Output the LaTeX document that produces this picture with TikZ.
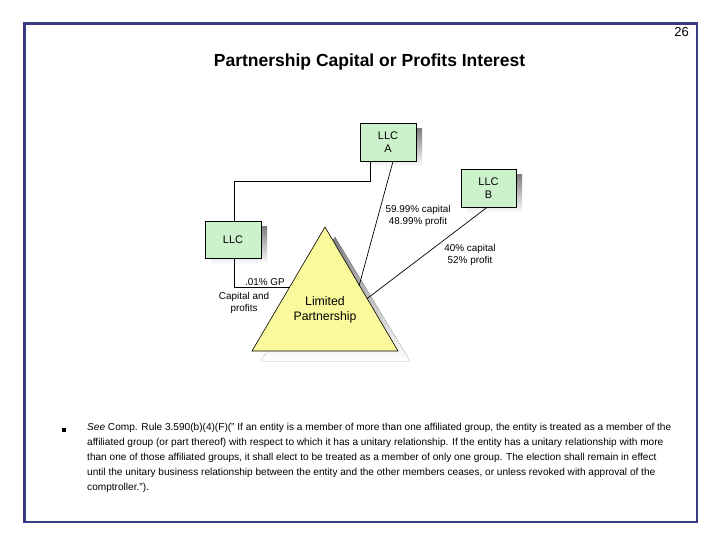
\documentclass[tikz,border=0pt]{standalone}
\usepackage{fontspec}
\setmainfont{Liberation Sans}
\usetikzlibrary{calc}
\definecolor{frame}{HTML}{3A3A80}
\definecolor{boxfill}{HTML}{CCF2CC}
\definecolor{trifill}{HTML}{FAFA9C}
\definecolor{shade}{HTML}{BBBBBB}
\tikzset{
  llcbox/.style={draw=black, line width=0.8pt, fill=boxfill, minimum width=56pt, minimum height=38pt, inner sep=0pt, align=center, font=\fontsize{11}{13}\selectfont},
  lbl/.style={align=center, inner sep=0pt, font=\fontsize{9.9}{12}\selectfont},
  conn/.style={draw=black, line width=0.7pt}
}
\begin{document}
\begin{tikzpicture}[x=1pt,y=-1pt]
\useasboundingbox (0,0) rectangle (720,540);
\fill[white] (0,0) rectangle (720,540);
\draw[frame, line width=2.6pt] (24.5,23.5) rectangle (697,522);
\node[anchor=east, inner sep=0pt, font=\fontsize{13}{15}\selectfont] (pg) at (689,32) {26};
\node[inner sep=0pt, font=\bfseries\fontsize{17.5}{20}\selectfont] (title) at (369.5,62) {Partnership Capital or Profits Interest};

% shadows
\fill[shade] (366,129) rectangle (422,167);
\fill[shade] (467,175) rectangle (522,213);
\fill[shade] (211,227) rectangle (267,264);
\fill[shade] (335,237) -- (261,361) -- (410,361) -- cycle;

% triangle
\coordinate (apex) at (325,227);
\coordinate (bl) at (252,351);
\coordinate (br) at (398,351);
\filldraw[draw=black, line width=0.6pt, fill=trifill] (apex) -- (bl) -- (br) -- cycle;
\node[align=center, inner sep=0pt, font=\fontsize{12.3}{15}\selectfont] (lp) at (325,310) {Limited\\Partnership};

% boxes
\node[llcbox] (A) at (388,142) {LLC\\A};
\node[llcbox, minimum width=55pt] (B) at (488.5,188) {LLC\\B};
\node[llcbox, minimum height=37pt] (L) at (233,239.5) {LLC};

% connectors
\coordinate (ta) at ($(apex)!0.484!(bl)$);
\coordinate (tA) at (359,286);
\coordinate (tB) at ($(apex)!0.577!(br)$);
\draw[conn] (A.south -| 370,0) |- (234,181) -- (L.north -| 234,0);
\draw[conn] (L.south -| 234,0) |- (ta);
\draw[conn] (A.south -| 393,0) -- (tA);
\draw[conn] (B.south -| 487,0) -- (tB);

% labels
\node[lbl] (lA) at (418,215.5) {59.99\% capital\\48.99\% profit};
\node[lbl] (lB) at (470,255) {40\% capital\\52\% profit};
\node[lbl] (gp) at (265,282) {.01\% GP};
\node[lbl] (cp) at (244,302.5) {Capital and\\profits};

% footnote
\node[inner sep=0pt] (bul) at (64,430) {\rule{3.2pt}{3.2pt}};
\node[anchor=north west, align=left, inner sep=0pt, font=\fontsize{10.1}{15.1}\selectfont] (note) at (87,423)
{\textit{See} Comp. Rule 3.590(b)(4)(F)(" If an entity is a member of more than one affiliated group, the entity is treated as a member of the\\
affiliated group (or part thereof) with respect to which it has a unitary relationship. If the entity has a unitary relationship with more\\
than one of those affiliated groups, it shall elect to be treated as a member of only one group. The election shall remain in effect\\
until the unitary business relationship between the entity and the other members ceases, or unless revoked with approval of the\\
comptroller.").};
\end{tikzpicture}
\end{document}
